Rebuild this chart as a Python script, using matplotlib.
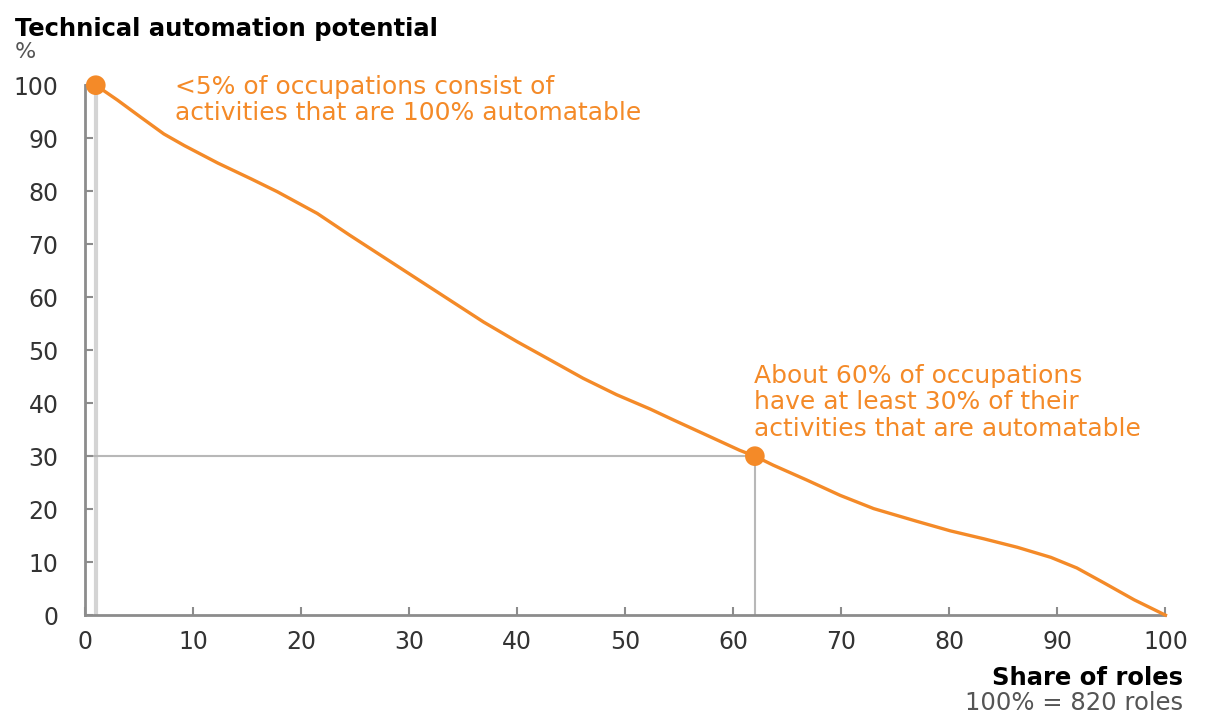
import matplotlib
matplotlib.use("Agg")
import matplotlib.pyplot as plt

# Curve: share of roles (%) vs automation potential (%)
share_of_roles = [1, 3, 5.2, 7.3, 9.2, 12.3, 15.4, 17.8, 21.5, 24.5, 27.6,
                  30.7, 33.8, 36.9, 40, 43.1, 46.1, 49.2, 52.3, 54.5, 57.5,
                  60.6, 62, 63.7, 66.8, 69.9, 73, 77, 80.1, 83.2, 86.3, 89.4,
                  91.8, 94.3, 97.1, 100]
automation_potential = [100, 97.2, 93.9, 90.8, 88.6, 85.3, 82.3, 79.9, 75.8,
                        71.7, 67.6, 63.5, 59.4, 55.3, 51.6, 48.1, 44.7, 41.6,
                        38.9, 36.8, 34.0, 31.1, 30, 28.3, 25.5, 22.6, 20.1,
                        17.7, 15.9, 14.4, 12.8, 10.9, 8.9, 6.1, 2.9, 0]

highlight_x = [1, 62]
highlight_y = [100, 30]

ticks = [0, 10, 20, 30, 40, 50, 60, 70, 80, 90, 100]

ORANGE = "#F48A28"
AXIS_GREY = "#8c8c8c"
TEXT_GREY = "#333333"

plt.rcParams["font.family"] = ["DejaVu Sans"]

fig = plt.figure(figsize=(12.14, 7.22), dpi=100)
ax = fig.add_axes([0.070, 0.148, 0.890, 0.734])

# reference lines
ax.plot([highlight_x[0], highlight_x[0]], [0, highlight_y[0]],
        color="#d4d4d4", lw=3, zorder=1)
ax.plot([highlight_x[1], highlight_x[1]], [0, highlight_y[1]],
        color="#b8b8b8", lw=1.5, zorder=1)
ax.plot([0, highlight_x[1]], [highlight_y[1], highlight_y[1]],
        color="#b8b8b8", lw=1.5, zorder=1)

ax.plot(share_of_roles, automation_potential, color=ORANGE, lw=2.4,
        solid_joinstyle="round", zorder=3, clip_on=False)
ax.scatter(highlight_x, highlight_y, s=200, color=ORANGE, zorder=4,
           clip_on=False, edgecolors="none")

ax.set_xlim(0, 100)
ax.set_ylim(0, 100)
ax.set_xticks(ticks)
ax.set_yticks(ticks)

for side in ("top", "right"):
    ax.spines[side].set_visible(False)
for side in ("left", "bottom"):
    ax.spines[side].set_color(AXIS_GREY)
    ax.spines[side].set_linewidth(2)

ax.tick_params(axis="both", direction="in", length=6, width=1.5,
               color=AXIS_GREY, labelcolor=TEXT_GREY, labelsize=17)
ax.tick_params(axis="y", pad=19)
ax.tick_params(axis="x", pad=11)

# axis titles
fig.text(15 / 1214, 1 - 29 / 722, "Technical automation potential",
         fontsize=17.5, fontweight="bold", color="black", va="center", ha="left")
fig.text(15 / 1214, 1 - 52 / 722, "%", fontsize=16, color="#555555",
         va="center", ha="left")
fig.text(1183 / 1214, 1 - 678 / 722, "Share of roles",
         fontsize=17.5, fontweight="bold", color="black", va="center", ha="right")
fig.text(1183 / 1214, 1 - 703 / 722, "100% = 820 roles",
         fontsize=17.5, color="#555555", va="center", ha="right")

# annotations
ax.text(8.3, 102.0, "<5% of occupations consist of\nactivities that are 100% automatable",
        fontsize=18, color=ORANGE, va="top", ha="left", linespacing=1.12)
ax.text(61.9, 47.4, "About 60% of occupations\nhave at least 30% of their\nactivities that are automatable",
        fontsize=18, color=ORANGE, va="top", ha="left", linespacing=1.12)

fig.savefig("out.png", dpi=100)
plt.close(fig)
